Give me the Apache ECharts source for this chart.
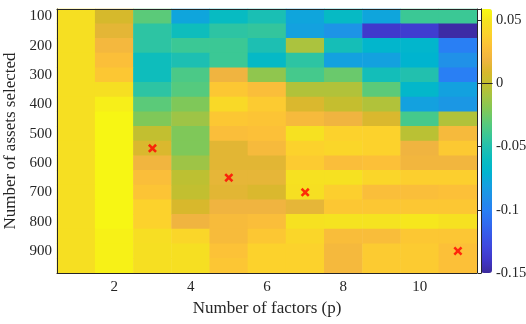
<!DOCTYPE html>
<html>
<head>
<meta charset="utf-8">
<script src="https://cdn.jsdelivr.net/npm/echarts@6/dist/echarts.min.js"></script>
<style>
html, body { margin: 0; padding: 0; background: #fff; }
#chart { width: 526px; height: 324px; }
</style>
</head>
<body>
<div id="chart"></div>
<script>
// number of factors (columns) and number of assets (rows)
var factors = ['1', '2', '3', '4', '5', '6', '7', '8', '9', '10', '11'];
var assets = ['100', '150', '200', '250', '300', '350', '400', '450', '500',
              '550', '600', '650', '700', '750', '800', '850', '900', '950'];

// one row per asset count, one value per factor count
var gains = [
  [0.047, 0.008, -0.031, -0.078, -0.062, -0.053, -0.078, -0.063, -0.078, -0.041, -0.041], // 100
  [0.047, 0.014, -0.046, -0.058, -0.046, -0.044, -0.080, -0.088, -0.138, -0.136, -0.148], // 150
  [0.047, 0.022, -0.046, -0.041, -0.041, -0.052, -0.008, -0.055, -0.068, -0.068, -0.101], // 200
  [0.047, 0.028, -0.058, -0.052, -0.041, -0.064, -0.046, -0.080, -0.080, -0.070, -0.090], // 250
  [0.047, 0.033, -0.058, -0.036, 0.019, -0.016, -0.038, -0.027, -0.056, -0.050, -0.101], // 300
  [0.047, 0.047, -0.046, -0.033, 0.033, 0.027, -0.006, -0.006, -0.031, -0.067, -0.080], // 350
  [0.047, 0.054, -0.031, -0.021, 0.043, 0.035, 0.010, 0.001, -0.006, -0.080, -0.086], // 400
  [0.047, 0.057, -0.021, -0.012, 0.033, 0.031, 0.024, 0.019, 0.010, -0.038, -0.006], // 450
  [0.047, 0.057, 0.000, -0.021, 0.027, 0.029, 0.048, 0.039, 0.039, -0.003, 0.024], // 500
  [0.047, 0.057, 0.010, -0.021, 0.013, 0.024, 0.039, 0.041, 0.039, 0.019, 0.034], // 550
  [0.047, 0.057, 0.020, -0.012, 0.013, 0.013, 0.035, 0.027, 0.029, 0.021, 0.021], // 600
  [0.047, 0.057, 0.027, -0.002, 0.015, 0.015, 0.048, 0.048, 0.041, 0.037, 0.037], // 650
  [0.047, 0.057, 0.031, 0.000, 0.013, 0.010, 0.047, 0.037, 0.027, 0.027, 0.029], // 700
  [0.047, 0.057, 0.039, 0.009, 0.019, 0.019, 0.015, 0.033, 0.033, 0.033, 0.033], // 750
  [0.047, 0.057, 0.039, 0.019, 0.025, 0.027, 0.048, 0.049, 0.049, 0.051, 0.048], // 800
  [0.047, 0.055, 0.046, 0.041, 0.025, 0.033, 0.041, 0.026, 0.026, 0.033, 0.032], // 850
  [0.047, 0.055, 0.047, 0.047, 0.030, 0.039, 0.039, 0.023, 0.035, 0.035, 0.029], // 900
  [0.047, 0.055, 0.047, 0.047, 0.032, 0.039, 0.039, 0.023, 0.035, 0.035, 0.029]  // 950
];

// red crosses
var bestFactors = ['3', '5', '7', '11'];
var bestAssets = ['550', '650', '700', '900'];

var cMin = -0.15, cMax = 0.0587;

// parula-like colour ramp, tuned to the picture
var parula = ['#3C2A9C', '#4036C8', '#4046DC', '#3858E8', '#306CF0', '#2880F4',
  '#2090E8', '#14A0E0', '#00B4D0', '#08BCC0', '#20C0B0', '#3CC894', '#5CCA78',
  '#80C858', '#A2C444', '#C0C030', '#D8B82C', '#F0B440', '#FCC038', '#FCD22C',
  '#F5E220', '#F8FA12'];

var heat = [];
for (var i = 0; i < assets.length; i++) {
  for (var j = 0; j < factors.length; j++) {
    heat.push([j, i, gains[i][j]]);
  }
}
var crosses = [];
for (var k = 0; k < bestFactors.length; k++) {
  crosses.push([bestFactors[k], bestAssets[k]]);
}

var font = 'Liberation Serif';
var ink = '#262626';
var oddIdx = function (idx) { return idx % 2 === 1; };
var evenIdx = function (idx) { return idx % 2 === 0; };
var line = { show: true, lineStyle: { color: ink, width: 1 } };

var myChart = echarts.init(document.getElementById('chart'));
var option = {
  animation: false,
  grid: [
    { left: 57, top: 9, width: 420, height: 264, outerBoundsMode: 'none', containLabel: false },
    { left: 481, top: 9, width: 11, height: 264, outerBoundsMode: 'none', containLabel: false }
  ],
  visualMap: {
    type: 'continuous',
    seriesIndex: 0,
    min: cMin,
    max: cMax,
    inRange: { color: parula },
    calculable: false,
    orient: 'vertical',
    left: 481,
    top: 9,
    padding: 0,
    itemWidth: 11,
    itemHeight: 264,
    z: 1
  },
  xAxis: [
    {
      gridIndex: 0, type: 'category', data: factors, position: 'bottom', z: 10,
      axisLine: line,
      axisTick: { inside: true, length: 4, alignWithLabel: true, interval: oddIdx, lineStyle: { color: ink } },
      axisLabel: { interval: oddIdx, fontFamily: font, fontSize: 15, color: ink, margin: 7 },
      splitLine: { show: false },
      name: 'Number of factors (p)', nameLocation: 'middle', nameGap: 25,
      nameTextStyle: { fontFamily: font, fontSize: 17, color: ink }
    },
    {
      gridIndex: 0, type: 'category', data: factors, position: 'top', z: 10,
      axisLine: line,
      axisTick: { inside: true, length: 4, alignWithLabel: true, interval: oddIdx, lineStyle: { color: ink } },
      axisLabel: { show: false }
    },
    {
      gridIndex: 1, type: 'value', min: 0, max: 1, position: 'bottom', z: 10,
      axisLine: line, axisTick: { show: false }, axisLabel: { show: false }, splitLine: { show: false }
    },
    {
      gridIndex: 1, type: 'value', min: 0, max: 1, position: 'top', z: 10,
      axisLine: line, axisTick: { show: false }, axisLabel: { show: false }, splitLine: { show: false }
    }
  ],
  yAxis: [
    {
      gridIndex: 0, type: 'category', data: assets, inverse: true, position: 'left', z: 10,
      axisLine: line,
      axisTick: { inside: true, length: 4, alignWithLabel: true, interval: evenIdx, lineStyle: { color: ink } },
      axisLabel: { interval: evenIdx, fontFamily: font, fontSize: 15, color: ink, margin: 5 },
      splitLine: { show: false },
      name: 'Number of assets selected', nameLocation: 'middle', nameGap: 31, nameRotate: 90,
      nameTextStyle: { fontFamily: font, fontSize: 17, color: ink }
    },
    {
      gridIndex: 0, type: 'category', data: assets, inverse: true, position: 'right', z: 10,
      axisLine: line,
      axisTick: { inside: true, length: 4, alignWithLabel: true, interval: evenIdx, lineStyle: { color: ink } },
      axisLabel: { show: false }
    },
    {
      gridIndex: 1, type: 'value', min: cMin, max: cMax, interval: 0.05, position: 'right', z: 10,
      axisLine: line,
      axisTick: { inside: true, length: 3, lineStyle: { color: ink } },
      axisLabel: {
        fontFamily: font, fontSize: 14.5, color: ink, margin: 4,
        formatter: function (v) {
          return Math.abs(v * 20 - Math.round(v * 20)) < 1e-6 ? String(+v.toFixed(2)) : '';
        }
      },
      splitLine: { show: false }
    },
    {
      gridIndex: 1, type: 'value', min: cMin, max: cMax, position: 'left', z: 10,
      axisLine: line, axisTick: { show: false }, axisLabel: { show: false }, splitLine: { show: false }
    }
  ],
  series: [
    {
      type: 'heatmap',
      xAxisIndex: 0,
      yAxisIndex: 0,
      data: heat,
      itemStyle: { borderWidth: 0 },
      emphasis: { disabled: true }
    },
    {
      type: 'scatter',
      xAxisIndex: 0,
      yAxisIndex: 0,
      data: crosses,
      symbol: 'path://M2,0L5,3L8,0L10,2L7,5L10,8L8,10L5,7L2,10L0,8L3,5L0,2Z',
      symbolSize: 9,
      itemStyle: { color: '#FF0000' },
      z: 5
    }
  ]
};
myChart.setOption(option);
</script>
</body>
</html>
